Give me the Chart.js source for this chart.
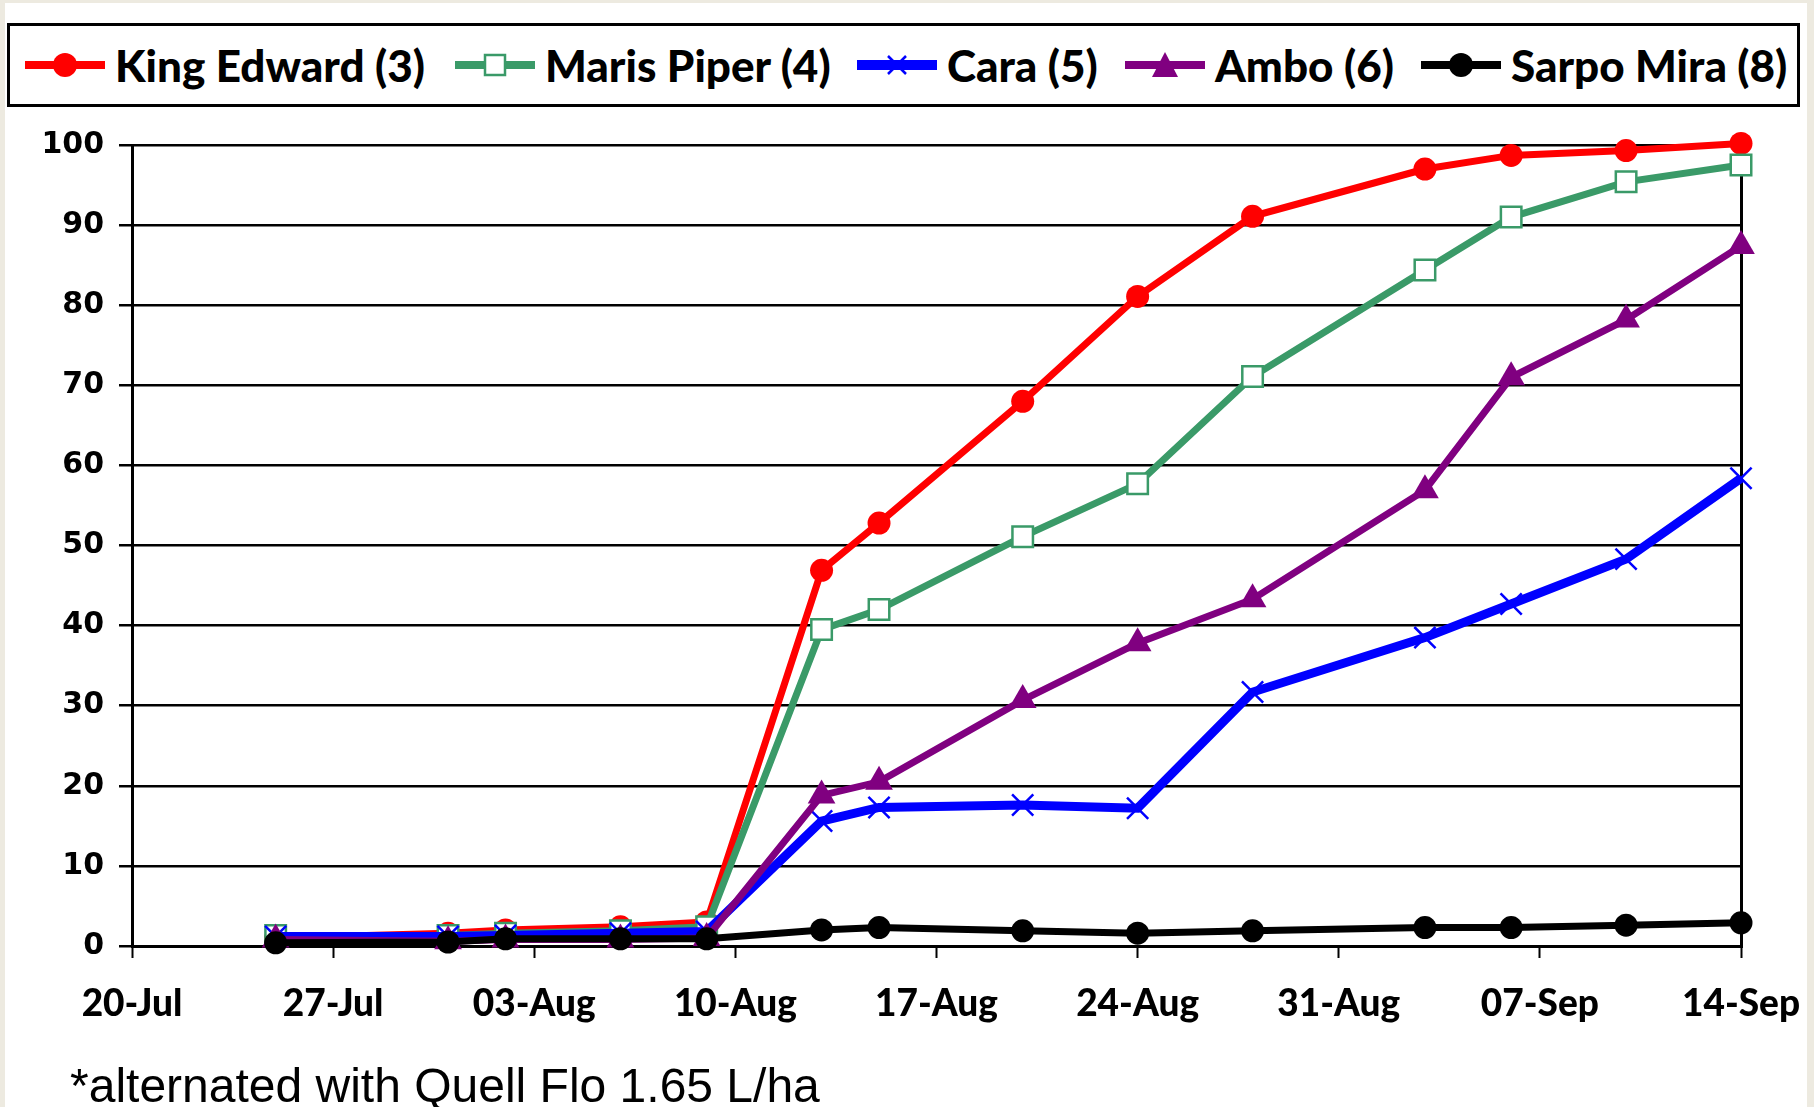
<!DOCTYPE html>
<html>
<head>
<meta charset="utf-8">
<script src="https://cdn.jsdelivr.net/npm/chart.js@4/dist/chart.umd.min.js"></script>
<style>
  html, body { margin: 0; padding: 0; }
  body { width: 1814px; height: 1107px; background: #edeae0; position: relative; overflow: hidden; }
  #panel { position: absolute; left: 5px; top: 3px; width: 1802px; height: 1104px; background: #fff; }
  #chartWrap { position: absolute; left: 0; top: 0; width: 1814px; height: 1107px; }
  #legend {
    position: absolute; left: 7px; top: 23px; width: 1787px; height: 78px;
    border: 3px solid #000; background: #fff;
    font-family: Lato, "Open Sans", sans-serif; font-weight: 900; font-size: 44px; color: #000;
  }
  .item { position: absolute; top: 0; height: 78px; display: flex; align-items: center; white-space: nowrap; }
  .item svg { margin-right: 10px; }
  #note {
    position: absolute; left: 70px; top: 1058px;
    font-family: "Liberation Sans", Arial, sans-serif; font-size: 48px; color: #000;
  }
</style>
</head>
<body>
<div id="panel"></div>
<div id="chartWrap"><canvas id="chart" width="1814" height="1107"></canvas></div>
<div id="legend"></div>
<div id="note">*alternated with Quell Flo 1.65 L/ha</div>
<script>
  // days after 20-Jul for each assessment
  const dayOffsets = [5, 11, 13, 17, 20, 24, 26, 31, 35, 39, 45, 48, 52, 56];
  const tickLabels = ['20-Jul', '27-Jul', '03-Aug', '10-Aug', '17-Aug', '24-Aug', '31-Aug', '07-Sep', '14-Sep'];

  const seriesNames = ['King Edward (3)', 'Maris Piper (4)', 'Cara (5)', 'Ambo (6)', 'Sarpo Mira (8)'];
  const kingEdward = [1.0, 1.6, 2.0, 2.4, 3.0, 46.9, 52.8, 68.0, 81.1, 91.1, 97.0, 98.7, 99.3, 100.2];
  const marisPiper = [1.3, 1.3, 1.6, 1.9, 2.4, 39.5, 42.0, 51.1, 57.7, 71.1, 84.4, 91.0, 95.4, 97.5];
  const cara       = [1.2, 1.2, 1.3, 1.6, 1.8, 15.6, 17.3, 17.6, 17.2, 31.7, 38.5, 42.7, 48.3, 58.4];
  const ambo       = [0.8, 0.6, 0.8, 0.8, 1.0, 18.8, 20.5, 30.7, 37.8, 43.3, 56.9, 71.0, 78.2, 87.4];
  const sarpoMira  = [0.4, 0.5, 0.9, 0.9, 0.9, 2.0, 2.3, 1.9, 1.6, 1.9, 2.3, 2.3, 2.6, 2.9];

  const styles = [
    { color: '#ff0000', width: 7, point: 'circle', radius: 11.5, fill: '#ff0000', pbw: 0 },
    { color: '#3a9a68', width: 7, point: 'rect', radius: 14.5, fill: '#ffffff', pbw: 2.5 },
    { color: '#0000ff', width: 9, point: 'crossRot', radius: 15, fill: '#0000ff', pbw: 2.5 },
    { color: '#800080', width: 7, point: 'triangle', radius: 16, fill: '#800080', pbw: 0 },
    { color: '#000000', width: 7, point: 'circle', radius: 11.5, fill: '#000000', pbw: 0 }
  ];
  const allValues = [kingEdward, marisPiper, cara, ambo, sarpoMira];

  const datasets = allValues.map((vals, i) => ({
    label: seriesNames[i],
    data: vals.map((v, j) => ({ x: dayOffsets[j], y: v })),
    borderColor: styles[i].color,
    borderWidth: styles[i].width,
    pointStyle: styles[i].point,
    pointRadius: styles[i].radius,
    pointBackgroundColor: styles[i].fill,
    pointBorderColor: styles[i].color,
    pointBorderWidth: styles[i].pbw,
    tension: 0,
    order: 4 - i,
    clip: false
  }));

  // legend (line + marker swatches), item left edges inside the box
  const legendLeft = [15, 445, 847, 1115, 1411];
  function markerSvg(s) {
    let m = '';
    if (s.point === 'circle') m = `<circle cx="40" cy="22" r="12" fill="${s.color}"/>`;
    if (s.point === 'rect') m = `<rect x="30" y="12" width="20" height="20" fill="#fff" stroke="${s.color}" stroke-width="2.5"/>`;
    if (s.point === 'crossRot') m = `<path d="M31 13 L49 31 M49 13 L31 31" stroke="${s.color}" stroke-width="2.5"/>`;
    if (s.point === 'triangle') m = `<path d="M40 9 L53 34 L27 34 Z" fill="${s.color}"/>`;
    return `<svg width="80" height="44"><line x1="0" y1="22" x2="80" y2="22" stroke="${s.color}" stroke-width="${s.width + 1}"/>${m}</svg>`;
  }
  document.getElementById('legend').innerHTML = seriesNames.map((n, i) =>
    `<div class="item" style="left:${legendLeft[i]}px">${markerSvg(styles[i])}<span>${n}</span></div>`).join('');

  new Chart(document.getElementById('chart'), {
    type: 'line',
    data: { datasets },
    options: {
      responsive: false,
      animation: false,
      layout: { padding: { left: 0, right: 73, top: 145, bottom: 81 } },
      plugins: { legend: { display: false }, tooltip: { enabled: false } },
      scales: {
        x: {
          type: 'linear',
          min: 0, max: 56,
          afterFit: s => { s.height = 80; s.paddingLeft = 0; s.paddingRight = 0; },
          border: { display: true, color: '#000', width: 3 },
          grid: {
            drawOnChartArea: true,
            color: ctx => (ctx.tick && ctx.tick.value === 56 ? '#000' : 'rgba(0,0,0,0)'),
            lineWidth: 3,
            drawTicks: true,
            tickLength: 12,
            tickColor: '#000',
            tickWidth: 2
          },
          ticks: {
            stepSize: 7,
            autoSkip: false,
            maxRotation: 0,
            padding: 24,
            color: '#000',
            font: { family: 'Lato', weight: 900, size: 37 },
            callback: v => tickLabels[v / 7]
          }
        },
        y: {
          min: 0, max: 100,
          afterFit: s => { s.width = 132; },
          border: { display: true, color: '#000', width: 3 },
          grid: { color: '#000', lineWidth: 2.5, tickLength: 13, tickColor: '#000' },
          ticks: {
            stepSize: 10,
            padding: 15,
            color: '#000',
            font: { family: 'DejaVu Sans', weight: 'bold', size: 30 }
          }
        }
      }
    }
  });
</script>
</body>
</html>
